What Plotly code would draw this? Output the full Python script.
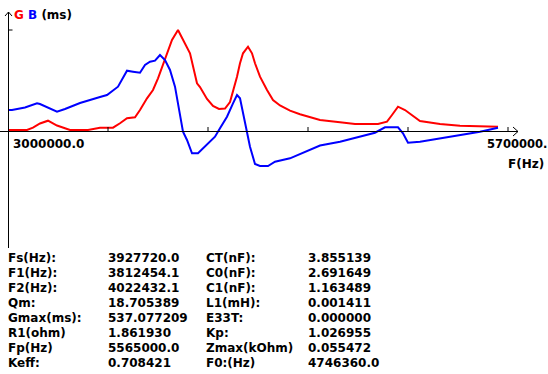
import plotly.graph_objects as go

# ---------------- data ----------------
# Conductance G (ms) vs frequency (Hz)
freq_g = [3000000, 3102600, 3135000, 3172800, 3216000, 3264600, 3334800, 3432000,
          3496800, 3567000, 3604800, 3642600, 3685800, 3712800, 3750600, 3783000,
          3810000, 3831600, 3858600, 3885600, 3918000, 3945000, 3982800, 4020600,
          4036800, 4074600, 4107000, 4139400, 4171800, 4198800, 4215000, 4236600,
          4252800, 4269000, 4296000, 4317600, 4333800, 4360800, 4398600, 4431000,
          4468800, 4522800, 4576800, 4630800, 4684800, 4792800, 4873800, 4998000,
          5046600, 5073600, 5106000, 5143800, 5181600, 5224800, 5332800, 5440800,
          5646000]
g_ms = [5.3, 5.3, 17.5, 40.0, 54.8, 29.0, 5.3, 5.3,
        17.5, 17.5, 41.0, 67.5, 72.9, 111.7, 173.9, 218.0,
        280.3, 341.9, 413.2, 483.9, 537.1, 483.9, 413.2, 253.7,
        234.0, 170.2, 133.0, 117.0, 119.7, 154.2, 207.4, 288.8,
        360.0, 413.2, 448.3, 413.2, 360.0, 288.8, 218.0, 164.9,
        135.6, 108.0, 88.8, 72.9, 58.5, 46.3, 37.2, 37.2,
        49.5, 85.0, 129.2, 111.7, 85.0, 53.2, 37.2, 28.2,
        22.9]

# Susceptance B (ms) vs frequency (Hz)
freq_b = [3000000, 3021600, 3091800, 3156600, 3172800, 3226800, 3264600, 3307800,
          3388800, 3496800, 3534600, 3594000, 3642600, 3675000, 3712800, 3739800,
          3766800, 3793800, 3820800, 3847800, 3874800, 3901800, 3928800, 3945000,
          3966600, 3993600, 4026000, 4063800, 4117800, 4144800, 4182600, 4215000,
          4236600, 4252800, 4279800, 4306800, 4333800, 4360800, 4404000, 4441800,
          4522800, 4603800, 4684800, 4792800, 4900800, 4981800, 5035800, 5106000,
          5133000, 5160000, 5224800, 5332800, 5440800, 5548800, 5646000]
b_ms = [111.7, 111.7, 125.0, 147.3, 143.6, 117.0, 102.6, 117.0,
        148.9, 180.8, 191.4, 235.6, 320.7, 315.4, 310.0, 351.0,
        368.5, 373.8, 404.2, 377.6, 324.4, 235.6, 95.7, -3.7,
        -47.9, -118.6, -118.6, -83.5, -30.3, 14.4, 76.0, 147.3,
        191.4, 173.9, 40.9, -83.5, -175.5, -186.1, -186.1, -163.3,
        -145.2, -110.1, -77.1, -56.9, -30.3, -9.0, 19.7, 19.7,
        -12.2, -62.2, -56.9, -38.8, -21.3, -3.7, 17.5]

x_start, x_end = 3000000, 5700000
x_start_label = "3000000.0"
x_end_label = "5700000."
x_tick_step = 540000
gmax_ms = 537.077209

table_labels_1 = ["Fs(Hz):", "F1(Hz):", "F2(Hz):", "Qm:", "Gmax(ms):", "R1(ohm)", "Fp(Hz)", "Keff:"]
table_values_1 = ["3927720.0", "3812454.1", "4022432.1", "18.705389", "537.077209", "1.861930", "5565000.0", "0.708421"]
table_labels_2 = ["CT(nF):", "C0(nF):", "C1(nF):", "L1(mH):", "E33T:", "Kp:", "Zmax(kOhm)", "F0:(Hz)"]
table_values_2 = ["3.855139", "2.691649", "1.163489", "0.001411", "0.000000", "1.026955", "0.055472", "4746360.0"]

# ---------------- figure ----------------
W, H = 548, 374
HZ_PER_PX = 5400.0
MS_PER_PX = gmax_ms / 101.0
X0_PX, Y0_PX = 8, 131           # pixel position of origin

x_range = [x_start - X0_PX * HZ_PER_PX, x_start + (W - X0_PX) * HZ_PER_PX]
y_range = [(Y0_PX - H) * MS_PER_PX, Y0_PX * MS_PER_PX]

def px(x):
    return x / W

def py(y):
    return 1 - y / H

FONT = dict(family="DejaVu Sans", size=12, color="black", weight="bold")

fig = go.Figure()
fig.add_trace(go.Scatter(x=freq_g, y=g_ms, mode="lines",
                         line=dict(color="#ff0000", width=2), hoverinfo="skip"))
fig.add_trace(go.Scatter(x=freq_b, y=b_ms, mode="lines",
                         line=dict(color="#0000ff", width=2), hoverinfo="skip"))

shapes = []
line_k = dict(color="black", width=1)
# x axis line + arrow
shapes.append(dict(type="line", xref="paper", yref="paper", x0=px(0), x1=px(518),
                   y0=py(131.5), y1=py(131.5), line=line_k))
shapes.append(dict(type="path", xref="paper", yref="paper",
                   path=f"M {px(513)},{py(127)} L {px(518)},{py(131.5)} L {px(513)},{py(136)}",
                   line=line_k))
# y axis line + arrow
shapes.append(dict(type="line", xref="paper", yref="paper", x0=px(8.5), x1=px(8.5),
                   y0=py(12), y1=py(248), line=line_k))
shapes.append(dict(type="path", xref="paper", yref="paper",
                   path=f"M {px(5)},{py(16)} L {px(8.5)},{py(12)} L {px(12)},{py(16)}",
                   line=line_k))
# y tick at Gmax
shapes.append(dict(type="line", xref="paper", yref="y", x0=px(8.5), x1=px(12.5),
                   y0=gmax_ms, y1=gmax_ms, line=line_k))
# x ticks
for k in range(1, 6):
    xv = x_start + k * x_tick_step
    shapes.append(dict(type="line", xref="x", yref="paper", x0=xv, x1=xv,
                       y0=py(131.5), y1=py(127), line=line_k))

ann = []
def text(x, y, s, color="black", size=12):
    ann.append(dict(xref="paper", yref="paper", x=px(x), y=py(y), text=s,
                    showarrow=False, xanchor="left", yanchor="middle",
                    borderpad=0, font=dict(FONT, color=color, size=size)))

text(13, 15, '<span style="color:#ff0000">G</span> <span style="color:#0000ff">B</span> (ms)')
text(12, 144, x_start_label)
text(486, 144, x_end_label, size=11.5)
text(507, 164, "F(Hz)")

row_y0, row_dy = 258, 15
for i in range(8):
    yy = row_y0 + i * row_dy
    text(7, yy, table_labels_1[i])
    text(107, yy, table_values_1[i])
    text(205, yy, table_labels_2[i])
    text(307, yy, table_values_2[i])

fig.update_layout(
    width=W, height=H,
    margin=dict(l=0, r=0, t=0, b=0),
    paper_bgcolor="white", plot_bgcolor="white",
    showlegend=False,
    xaxis=dict(range=x_range, showgrid=False, zeroline=False, showticklabels=False,
               showline=False, ticks="", fixedrange=True),
    yaxis=dict(range=y_range, showgrid=False, zeroline=False, showticklabels=False,
               showline=False, ticks="", fixedrange=True),
    shapes=shapes, annotations=ann, hovermode=False,
)

fig.write_html("out.html", config={"displayModeBar": False},
               post_script="document.body.style.margin='0';document.body.style.overflow='hidden';")
